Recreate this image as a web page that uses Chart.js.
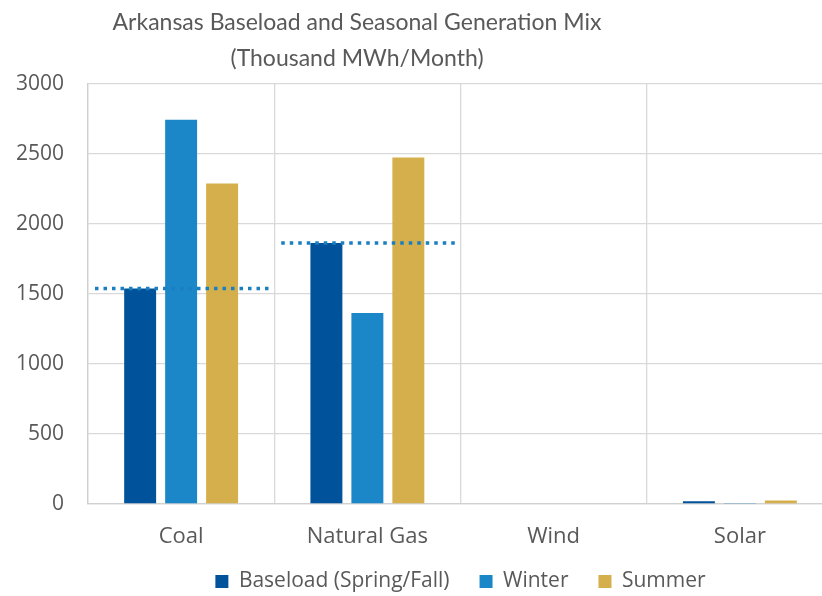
<!DOCTYPE html>
<html>
<head>
<meta charset="utf-8">
<script src="https://cdn.jsdelivr.net/npm/chart.js@4/dist/chart.umd.min.js"></script>
<style>
html,body{margin:0;padding:0;background:#fff;overflow:hidden;}
#wrap{width:840px;height:596px;position:relative;}
</style>
</head>
<body>
<div id="wrap"><canvas id="c" width="840" height="596"></canvas></div>
<script>
const titleLines = ["Arkansas Baseload and Seasonal Generation Mix", "(Thousand MWh/Month)"];
const categories = ["Coal", "Natural Gas", "Wind", "Solar"];
const seriesNames = ["Baseload (Spring/Fall)", "Winter", "Summer"];
const baseloadValues = [1540, 1865, 0, 20];
const winterValues = [2745, 1365, 0, 8];
const summerValues = [2290, 2475, 0, 25];
const baseloadRefLine = [1540, 1865, null, null];
const yTicks = [0, 500, 1000, 1500, 2000, 2500, 3000];

const FONT = "'Open Sans', sans-serif";
const TEXT = "#595959";

const titlePlugin = {
  id: 'customTitle',
  beforeDraw(chart) {
    // let the category labels extend below the (short) x-axis box without being clipped
    chart.scales.x.bottom = chart.height;
  },
  afterDraw(chart) {
    const ctx = chart.ctx;
    ctx.save();
    ctx.fillStyle = TEXT;
    ctx.font = "23px Lato, sans-serif";
    ctx.textAlign = 'center';
    ctx.textBaseline = 'middle';
    ctx.fillText(titleLines[0], 357, 23);
    ctx.fillText(titleLines[1], 357, 59);
    ctx.restore();
  }
};

const refLinePlugin = {
  id: 'refLine',
  afterDatasetsDraw(chart) {
    const x = chart.scales.x, y = chart.scales.y, ctx = chart.ctx;
    const half = (x.getPixelForValue(1) - x.getPixelForValue(0)) / 2;
    ctx.save();
    ctx.strokeStyle = '#1a7fc1';
    ctx.lineWidth = 3.5;
    ctx.setLineDash([3.5, 5]);
    baseloadRefLine.forEach((v, i) => {
      if (v == null) return;
      const xc = x.getPixelForValue(i);
      const yp = y.getPixelForValue(v);
      ctx.beginPath();
      ctx.moveTo(xc - half + 7, yp);
      ctx.lineTo(xc + half - 4, yp);
      ctx.stroke();
    });
    ctx.restore();
  }
};

new Chart(document.getElementById('c'), {
  type: 'bar',
  data: {
    labels: categories,
    datasets: [
      { label: seriesNames[0], data: baseloadValues, backgroundColor: '#00539b' },
      { label: seriesNames[1], data: winterValues, backgroundColor: '#1b87c8' },
      { label: seriesNames[2], data: summerValues, backgroundColor: '#d4af4b' }
    ]
  },
  options: {
    responsive: false,
    animation: false,
    devicePixelRatio: 1,
    layout: { padding: { top: 84, left: 0, right: 7, bottom: -6 } },
    datasets: { bar: { categoryPercentage: 0.66, barPercentage: 0.78 } },
    plugins: {
      title: { display: false },
      tooltip: { enabled: false },
      legend: {
        position: 'bottom',
        fullSize: false,
        labels: {
          font: { family: FONT, size: 21 },
          color: TEXT,
          boxWidth: 13,
          boxHeight: 13,
          padding: 30
        }
      }
    },
    scales: {
      x: {
        grid: { color: '#d9d9d9', offset: true, drawTicks: false, lineWidth: 1.3 },
        border: { color: '#d0d0d0', width: 1.3 },
        ticks: { font: { family: FONT, size: 22 }, color: TEXT, padding: 20 },
        afterFit(s) { s.height = 37; }
      },
      y: {
        min: 0, max: 3000,
        afterBuildTicks(s) { s.ticks = yTicks.map(v => ({ value: v })); },
        grid: { color: '#d9d9d9', drawTicks: false, lineWidth: 1.3 },
        border: { color: '#d0d0d0', width: 1.3 },
        ticks: { font: { family: FONT, size: 21 }, color: TEXT, padding: 24, callback: v => String(v) },
        afterFit(s) { s.width = 88; }
      }
    }
  },
  plugins: [titlePlugin, refLinePlugin]
});
</script>
</body>
</html>
